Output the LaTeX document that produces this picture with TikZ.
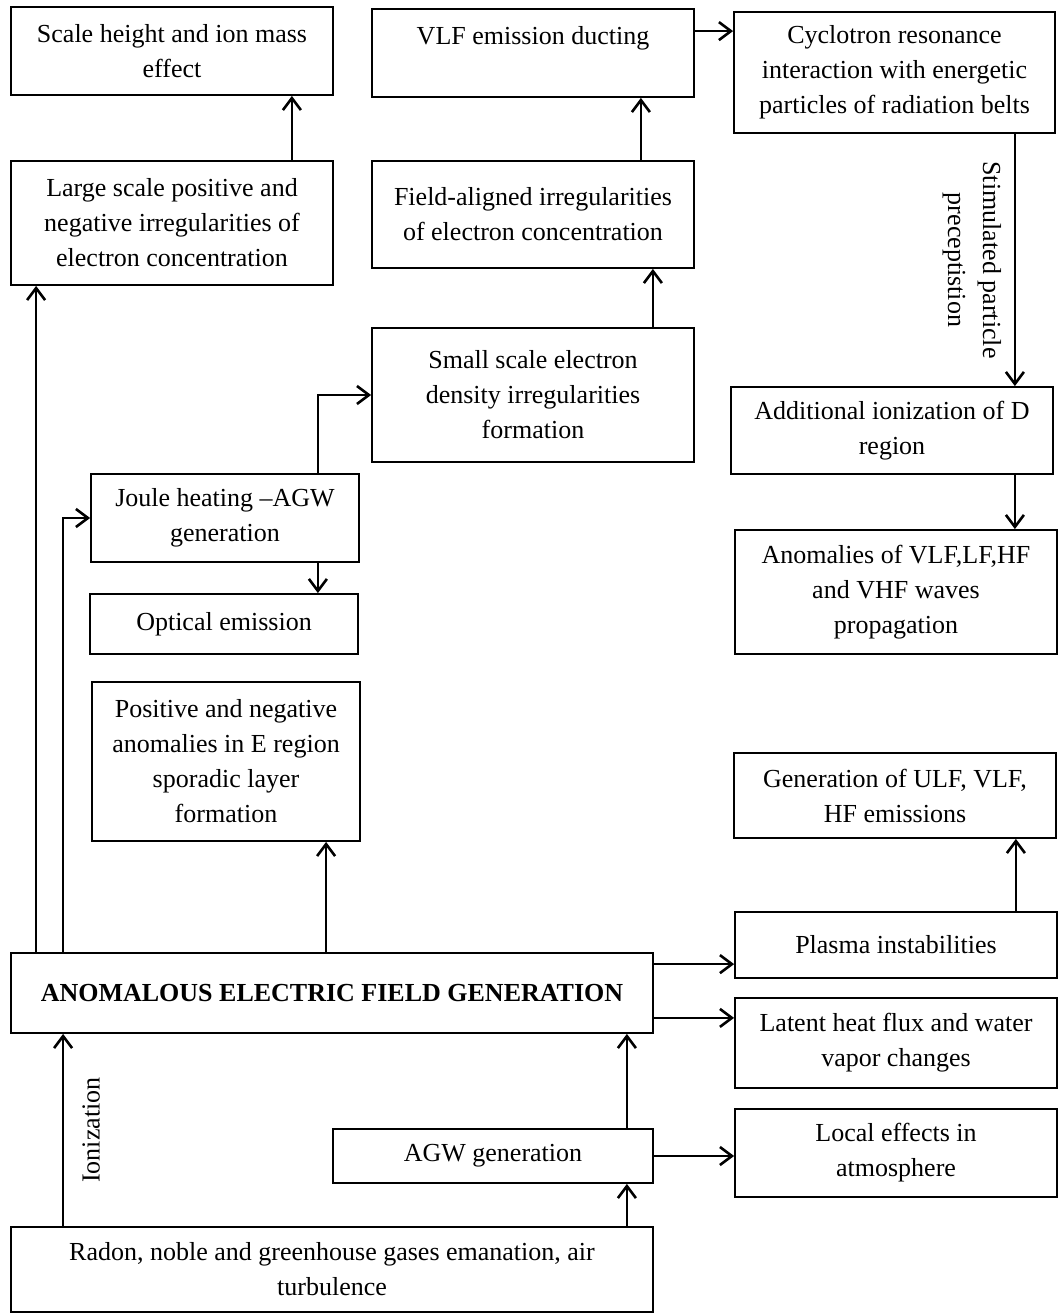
\documentclass[tikz,border=0pt]{standalone}
\usepackage{fontspec}
\setmainfont{Liberation Serif}
\usetikzlibrary{arrows.meta}

\begin{document}
\begin{tikzpicture}[x=1pt, y=-1pt,
    blk/.style={draw, line width=1.8pt, align=center, inner sep=0pt,
                font=\fontsize{26}{35}\selectfont},
    arr/.style={line width=2.6pt, -{Straight Barb[length=12pt,width=18pt,line width=2.6pt]}},
    lbl/.style={align=center, inner sep=0pt, font=\fontsize{26}{35}\selectfont}]
\useasboundingbox (0,0) rectangle (1058,1313);

\node[blk, minimum width=322pt, minimum height=88pt]  (scaleh)   at (172,51)     {Scale height and ion mass\\effect};
\node[blk, minimum width=322pt, minimum height=88pt]  (vlfduct)  at (533,53)     {VLF emission ducting\\\mbox{}};
\node[blk, minimum width=321pt, minimum height=121pt] (cyclo)    at (894.5,72.5) {Cyclotron resonance\\interaction with energetic\\particles of radiation belts};
\node[blk, minimum width=322pt, minimum height=124pt] (largeirr) at (172,223)    {Large scale positive and\\negative irregularities of\\electron concentration};
\node[blk, minimum width=322pt, minimum height=107pt] (fieldirr) at (533,214.5)  {Field-aligned irregularities\\of electron concentration};
\node[blk, minimum width=322pt, minimum height=134pt] (smallirr) at (533,395)    {Small scale electron\\density irregularities\\formation};
\node[blk, minimum width=322pt, minimum height=87pt]  (addion)   at (892,430.5)  {Additional ionization of D\\region};
\node[blk, minimum width=268pt, minimum height=88pt]  (joule)    at (225,518)    {Joule heating --AGW\\generation};
\node[blk, minimum width=268pt, minimum height=60pt]  (optem)    at (224,624)    {Optical emission};
\node[blk, minimum width=322pt, minimum height=124pt] (waveanom) at (896,592)    {Anomalies of VLF,LF,HF\\and VHF waves\\propagation};
\node[blk, minimum width=268pt, minimum height=159pt] (posneg)   at (226,761.5)  {Positive and negative\\anomalies in E region\\sporadic layer\\formation};
\node[blk, minimum width=322pt, minimum height=85pt]  (ulfgen)   at (895,795.5)  {Generation of ULF, VLF,\\HF emissions};
\node[blk, minimum width=322pt, minimum height=66pt]  (plasma)   at (896,945)    {Plasma instabilities};
\node[blk, minimum width=642pt, minimum height=80pt]  (efield)   at (332,993)    {\textbf{ANOMALOUS ELECTRIC FIELD GENERATION}};
\node[blk, minimum width=322pt, minimum height=90pt]  (latent)   at (896,1043)   {Latent heat flux and water\\vapor changes};
\node[blk, minimum width=320pt, minimum height=54pt]  (agw)      at (493,1156)   {AGW generation};
\node[blk, minimum width=322pt, minimum height=88pt]  (local)    at (896,1153)   {Local effects in\\atmosphere};
\node[blk, minimum width=642pt, minimum height=85pt]  (radon)    at (332,1269.5) {Radon, noble and greenhouse gases emanation, air\\turbulence};

\draw[arr] ([xshift=-42pt]largeirr.north east) -- ([xshift=-42pt]scaleh.south east);
\draw[arr] ([xshift=-54pt]fieldirr.north east) -- ([xshift=-54pt]vlfduct.south east);
\draw[arr] ([yshift=-23pt]vlfduct.north east) coordinate (vlfout) -- (vlfout -| cyclo.west);
\draw[arr] ([xshift=-41pt]cyclo.south east) coordinate (cycout) -- (cycout |- addion.north)
    node[midway, xshift=-43pt, rotate=-90, lbl] {Stimulated particle\\preceptistion};
\draw[arr] ([xshift=-39pt]addion.south east) coordinate (addout) -- (addout |- waveanom.north);
\draw[arr] ([xshift=-42pt]smallirr.north east) -- ([xshift=-42pt]fieldirr.south east);
\draw[arr] ([xshift=-42pt]joule.north east) |- (smallirr.west);
\draw[arr] ([xshift=-42pt]joule.south east) coordinate (jouleout) -- (jouleout |- optem.north);
\draw[arr] ([xshift=26pt]efield.north west) -- ([xshift=26pt]largeirr.south west);
\draw[arr] ([xshift=53pt]efield.north west) |- (joule.west);
\draw[arr] ([xshift=316pt]efield.north west) coordinate (efup) -- (efup |- posneg.south);
\draw[arr] ([yshift=-12pt]efield.north east) coordinate (efplas) -- (efplas -| plasma.west);
\draw[arr] ([yshift=16pt]efield.south east) coordinate (eflat) -- (eflat -| latent.west);
\draw[arr] ([xshift=-42pt]plasma.north east) coordinate (plasout) -- (plasout |- ulfgen.south);
\draw[arr] ([xshift=-27pt]agw.north east) -- ([xshift=-27pt]efield.south east);
\draw[arr] (agw.east) -- (agw.east -| local.west);
\draw[arr] ([xshift=-27pt]radon.north east) -- ([xshift=-27pt]agw.south east);
\draw[arr] ([xshift=53pt]radon.north west) -- ([xshift=53pt]efield.south west)
    node[midway, xshift=28pt, rotate=90, lbl] {Ionization};
\end{tikzpicture}
\end{document}
